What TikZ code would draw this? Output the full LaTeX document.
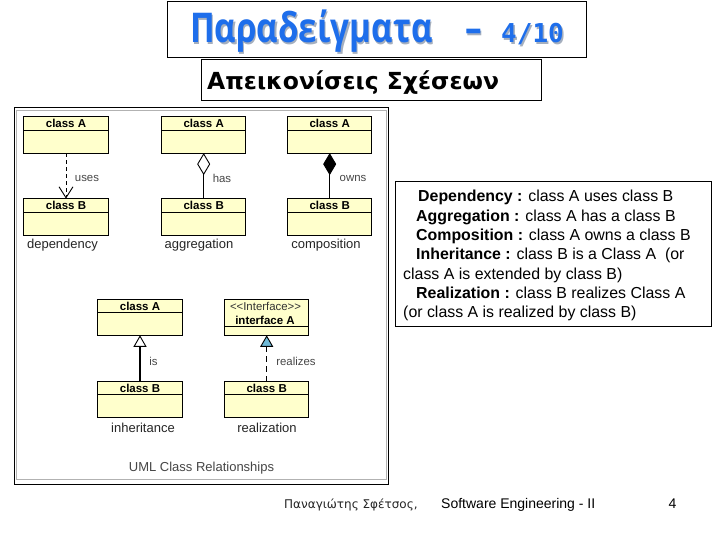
\documentclass[tikz,border=0pt]{standalone}
\usepackage{fontspec}
\setmainfont{Liberation Sans}
\newfontfamily\titlefont{DejaVu Sans}
\newfontfamily\headfont{Open Sans}
\newfontfamily\monofont{DejaVu Sans Mono}
\usetikzlibrary{arrows.meta}
\definecolor{classfill}{RGB}{255,255,204}
\definecolor{titleblue}{RGB}{30,110,235}
\definecolor{titleshadow}{RGB}{165,175,190}
\definecolor{captiongray}{RGB}{70,70,70}
\definecolor{realblue}{RGB}{110,185,215}
\newcommand{\shadowed}[1]{\rlap{\hspace{1.5pt}\raisebox{-1.5pt}{\textcolor{titleshadow}{#1}}}\textcolor{titleblue}{#1}}
\tikzset{
  x=1pt,y=-1pt,
  framebox/.style={draw=black,line width=0.8pt,fill=white,inner sep=0,outer sep=0,anchor=north west},
  classbox/.style={draw=black,line width=0.9pt,fill=classfill,inner sep=0,outer sep=0,anchor=north west,minimum width=84.4pt,minimum height=36.6pt},
  lowbox/.style={classbox,minimum height=35.8pt},
  classdiv/.style={draw=black,line width=0.8pt},
  classname/.style={font=\bfseries\fontsize{11.5}{13}\selectfont,inner sep=0},
  caption/.style={font=\fontsize{13}{15}\selectfont,inner sep=0,color=black!85},
  rellabel/.style={font=\fontsize{11.4}{13}\selectfont,inner sep=0,color=captiongray},
  rel/.style={line width=0.9pt,black},
  foot/.style={font=\fontsize{14}{16}\selectfont,inner sep=0},
  headtxt/.style={inner sep=0,anchor=base west,font=\headfont\bfseries\fontsize{41}{46}\selectfont,xscale=0.81,transform shape},
  numtxt/.style={inner sep=0,anchor=base west,font=\monofont\bfseries\fontsize{26}{30}\selectfont}
}
\newcommand{\classAt}[7][classbox]{%
  \node[#1] (#2) at (#3,#4) {};
  \draw[classdiv] (#3,#5) -- (#6,#5);
  \node[classname] (#2t) at ({(#3+#6)/2},{(#4+#5)/2}) {#7};
}
\begin{document}
\begin{tikzpicture}
\useasboundingbox (0,0) rectangle (720,540);
\fill[white] (0,0) rectangle (720,540);
% title
\node[framebox,minimum width=419pt,minimum height=56pt] (titlebox) at (167.5,1.5) {};
\node[headtxt] (titletxt) at (190,43) {\shadowed{Παραδείγματα}};
\node[headtxt] (dashtxt) at (465,43) {\shadowed{–}};
\node[numtxt] (numtxt) at (501,43) {\shadowed{4/10}};
% subtitle
\node[framebox,minimum width=340pt,minimum height=40.5pt] (subbox) at (201.5,59.5) {};
\node[inner sep=0,anchor=base west,font=\titlefont\bfseries\fontsize{23.5}{27}\selectfont] (subtxt) at (207,90) {Απεικονίσεις Σχέσεων};
% figure frame
\node[framebox,minimum width=373.6pt,minimum height=376.7pt] (figframe) at (14.7,107.3) {};
\draw[black!30,line width=0.8pt] (16.7,110) -- (386.7,110) -- (386.7,479.3) -- (16.7,479.3) -- cycle;
% classes
\classAt{depA}{23.8}{116.5}{130.3}{108.2}{class A}
\classAt{depB}{23.8}{198.6}{212.3}{108.2}{class B}
\classAt{aggA}{161.5}{116.5}{130.3}{245.9}{class A}
\classAt{aggB}{161.5}{198.6}{212.3}{245.9}{class B}
\classAt{comA}{287.5}{116.5}{130.3}{371.9}{class A}
\classAt{comB}{287.5}{198.6}{212.3}{371.9}{class B}
\classAt[lowbox]{inhA}{97.8}{299.5}{312.5}{182.2}{class A}
\classAt[lowbox]{inhB}{97.8}{381.5}{394.5}{182.2}{class B}
\classAt[lowbox]{reaB}{224.5}{381.5}{394.5}{308.9}{class B}
\node[lowbox] (reaA) at (224.5,299.5) {};
\draw[classdiv] (224.5,326.5) -- (308.9,326.5);
\node[rellabel,color=black!80] (reaS) at (265.5,306.5) {<{}<Interface>{}>};
\node[classname] (reaT) at (265,320) {interface A};
% connectors
\draw[rel,dash pattern=on 4pt off 3pt,-{Straight Barb[length=11pt,width=14pt,line width=0.9pt]}] (depA.south) -- (depB.north);
\draw[rel,{Diamond[open,fill=white,length=22pt,width=13pt,line width=0.9pt]}-] (aggA.south) -- (aggB.north);
\draw[rel,{Diamond[fill=black,length=22pt,width=13pt]}-] (comA.south) -- (comB.north);
\draw[black,line width=2pt,-{Triangle[open,fill=white,length=11.5pt,width=13pt,line width=0.9pt]}] (inhB.north) -- (inhA.south);
\draw[rel,dash pattern=on 6pt off 4pt,-{Triangle[fill=realblue,color=black,length=11.5pt,width=13pt,line width=0.9pt]}] (reaB.north) -- (reaA.south);
% relation labels
\node[rellabel] (lUses) at (87,178.5) {uses};
\node[rellabel] (lHas) at (222,178.5) {has};
\node[rellabel] (lOwns) at (353,178.5) {owns};
\node[rellabel] (lIs) at (153.5,361) {is};
\node[rellabel] (lRea) at (296,361) {realizes};
% captions
\node[caption] (cDep) at (62.5,245.5) {dependency};
\node[caption] (cAgg) at (199,245.5) {aggregation};
\node[caption] (cCom) at (326,245.5) {composition};
\node[caption] (cInh) at (143,428) {inheritance};
\node[caption] (cRea) at (267,428) {realization};
\node[caption,color=captiongray] (cUml) at (201.5,468.5) {UML Class Relationships};
% text box
\node[framebox,minimum width=316.7pt,minimum height=144.3pt] (descbox) at (395,181.7) {};
\node[inner sep=0,anchor=north west,align=left,font=\fontsize{15.9}{19.35}\selectfont] (desctxt) at (403,190) {%
\hspace*{15pt}\textbf{Dependency :} class A uses class B\\
\hspace*{13pt}\textbf{Aggregation :} class A has a class B\\
\hspace*{13pt}\textbf{Composition :} class A owns a class B\\
\hspace*{13pt}\textbf{Inheritance :} class B is a Class A\ \ (or\\
class A is extended by class B)\\
\hspace*{13pt}\textbf{Realization :} class B realizes Class A\\
(or class A is realized by class B)};
% footer
\node[foot,anchor=base west,font=\titlefont\fontsize{12}{15}\selectfont,color=black!85] (fAuth) at (284,508.5) {Παναγιώτης Σφέτσος,};
\node[foot,anchor=base west] (fCourse) at (441,508.5) {Software Engineering - II};
\node[foot,anchor=base west] (fNum) at (668.5,508.5) {4};
\end{tikzpicture}
\end{document}
